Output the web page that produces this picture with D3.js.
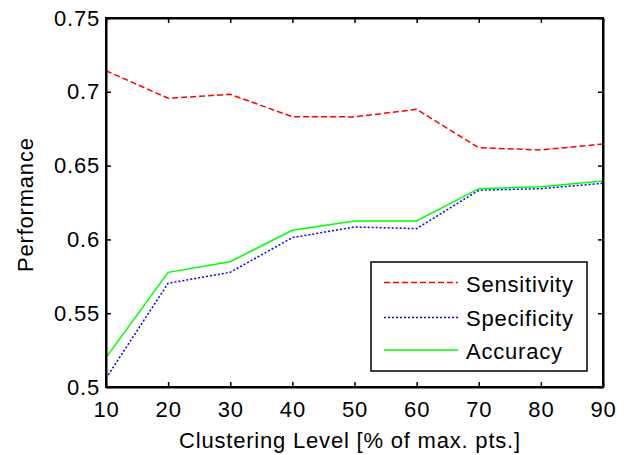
<!DOCTYPE html>
<html><head><meta charset="utf-8">
<script src="https://cdn.jsdelivr.net/npm/d3@7"></script>
<style>body{margin:0;background:#fff}svg{display:block}text{font-family:"Liberation Sans",Arial,sans-serif;fill:#000;letter-spacing:0.8px}</style>
</head><body><svg id="c" width="628" height="455"></svg>
<script>
const levels = [10,20,30,40,50,60,70,80,90];
const sensitivity = [0.7143,0.6956,0.6983,0.6831,0.6830,0.6881,0.6621,0.6606,0.6646];
const specificity = [0.5059,0.5703,0.5777,0.6012,0.6084,0.6073,0.6333,0.6344,0.6380];
const accuracy   = [0.5199,0.5777,0.5849,0.6062,0.6125,0.6125,0.6344,0.6357,0.6396];
const xTicks = [10,20,30,40,50,60,70,80,90];
const yTicks = [0.5,0.55,0.6,0.65,0.7,0.75];
const yTickLabels = ["0.5","0.55","0.6","0.65","0.7","0.75"];
const seriesNames = ["Sensitivity","Specificity","Accuracy"];
const seriesColors = ["#ff0000","#0000ff","#00ff00"];
const seriesDash = ["6,3","2,2",null];

const svg = d3.select("#c");
const L=106,R=603,T=18,B=387;
const x = d3.scaleLinear().domain([10,90]).range([L,R]);
const y = d3.scaleLinear().domain([0.5,0.75]).range([B,T]);
const fs = 22;

// series
const all = [sensitivity,specificity,accuracy];
const line = d3.line().x((d,i)=>x(levels[i])).y(d=>y(d));
all.forEach((s,k)=>{
  svg.append("path").attr("d",line(s)).attr("fill","none")
    .attr("stroke",seriesColors[k]).attr("stroke-width",1.5)
    .attr("stroke-dasharray",seriesDash[k]);
});

// axes (MATLAB style, inward ticks, box)
const tl=5;
const axBottom = d3.axisBottom(x).tickValues(xTicks).tickSizeInner(-tl).tickSizeOuter(0).tickPadding(14);
const axTop = d3.axisTop(x).tickValues(xTicks).tickSizeInner(-tl).tickSizeOuter(0).tickFormat("");
const axLeft = d3.axisLeft(y).tickValues(yTicks).tickSizeInner(-tl).tickSizeOuter(0).tickPadding(6).tickFormat((d,i)=>yTickLabels[i]);
const axRight = d3.axisRight(y).tickValues(yTicks).tickSizeInner(-tl).tickSizeOuter(0).tickFormat("");
const gB = svg.append("g").attr("transform",`translate(0,${B})`).call(axBottom);
const gT = svg.append("g").attr("transform",`translate(0,${T})`).call(axTop);
const gL = svg.append("g").attr("transform",`translate(${L},0)`).call(axLeft);
const gR = svg.append("g").attr("transform",`translate(${R},0)`).call(axRight);
[gB,gT,gL,gR].forEach(g=>{
  g.selectAll(".domain").attr("stroke","#000").attr("stroke-width",2);
  g.selectAll(".tick line").attr("stroke","#000").attr("stroke-width",1.5);
  g.selectAll("text").style("font-size",fs+"px").style("font-family","'Liberation Sans',Arial,sans-serif").attr("fill","#000");
});
svg.append("rect").attr("x",L).attr("y",T).attr("width",R-L).attr("height",B-T)
  .attr("fill","none").attr("stroke","#000").attr("stroke-width",2);

// labels
svg.append("text").attr("x",350).attr("y",448).attr("text-anchor","middle")
  .style("font-size",fs+"px").text("Clustering Level [% of max. pts.]");
svg.append("text").attr("transform",`translate(33,272) rotate(-90)`).attr("text-anchor","start")
  .style("font-size",fs+"px").text("Performance");

// legend
const lg = svg.append("g");
lg.append("rect").attr("x",371).attr("y",262).attr("width",216).attr("height",109)
  .attr("fill","#fff").attr("stroke","#000").attr("stroke-width",1.5);
const rowY=[282.5,317.5,350];
const textY=[291.5,325.5,359];
seriesNames.forEach((n,k)=>{
  lg.append("line").attr("x1",384).attr("x2",458).attr("y1",rowY[k]).attr("y2",rowY[k])
    .attr("stroke",seriesColors[k]).attr("stroke-width",1.5).attr("stroke-dasharray",seriesDash[k]);
  lg.append("text").attr("x",466).attr("y",textY[k])
    .style("font-size",fs+"px").text(n);
});
</script></body></html>
